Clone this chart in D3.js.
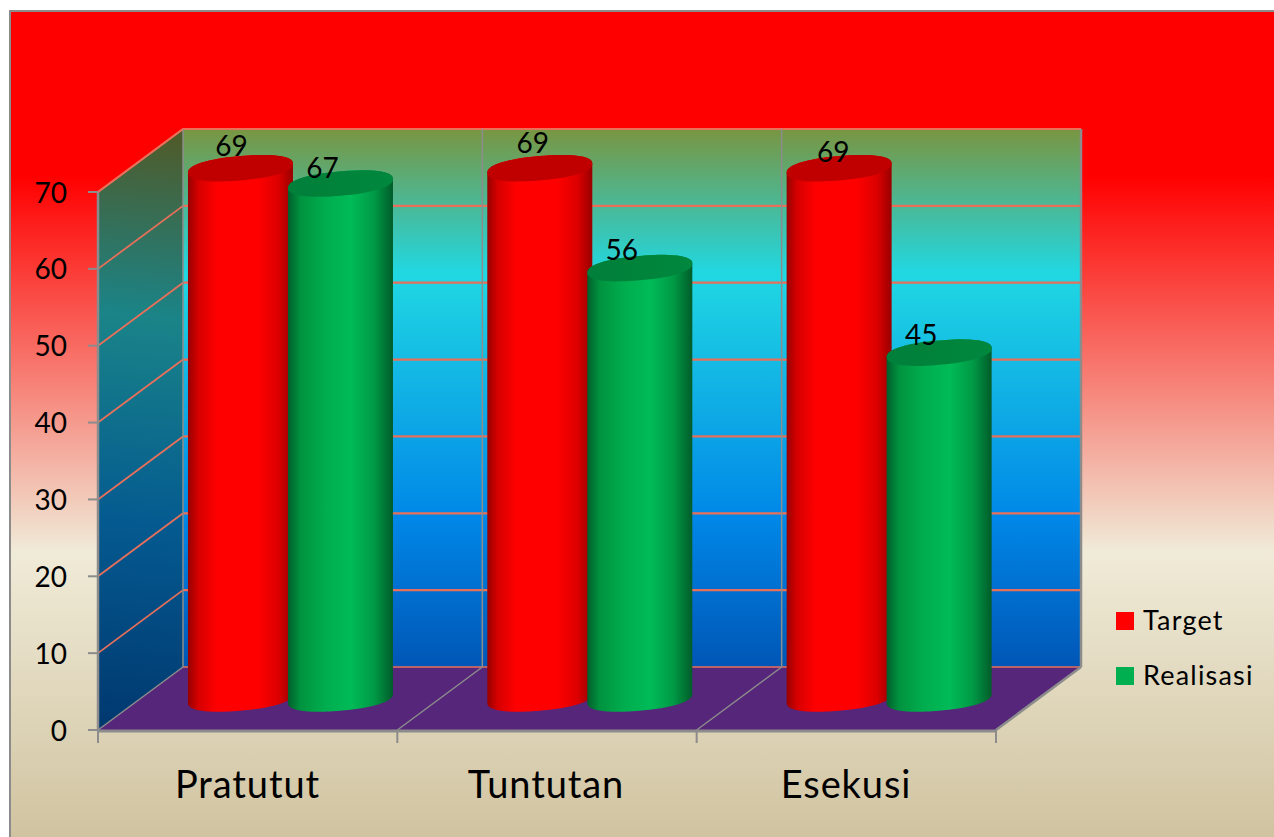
<!DOCTYPE html>
<html><head><meta charset="utf-8">
<script src="https://cdn.jsdelivr.net/npm/d3@7"></script>
<style>html,body{margin:0;padding:0;background:#fff;overflow:hidden}svg{display:block}text{font-family:Lato,"Open Sans",sans-serif;fill:#000}</style>
</head><body><div id="c"></div>
<script>
const categories = ["Pratutut","Tuntutan","Esekusi"];
const target = [69,69,69];
const realisasi = [67,56,45];
const seriesNames = ["Target","Realisasi"];
const yTicks = [0,10,20,30,40,50,60,70];

const W=1274,H=837;
const svg=d3.select("#c").append("svg").attr("width",W).attr("height",H);
const defs=svg.append("defs");
function grad(id,attrs,stops){
  const g=defs.append("linearGradient").attr("id",id);
  Object.entries(attrs).forEach(([k,v])=>g.attr(k,v));
  stops.forEach(([o,c])=>g.append("stop").attr("offset",o).attr("stop-color",c));
}
grad("bg",{gradientUnits:"userSpaceOnUse",x1:0,y1:11,x2:0,y2:837},[[0,"#ff0000"],[.2,"#ff0000"],[.655,"#f0ebd8"],[1,"#d0c3a0"]]);
grad("back",{gradientUnits:"userSpaceOnUse",x1:0,y1:128,x2:0,y2:667},[[0,"#7a9540"],[.27,"#20d8e2"],[.72,"#0088e8"],[1,"#0056b6"]]);
grad("side",{gradientUnits:"userSpaceOnUse",x1:165,y1:140,x2:115,y2:730},[[0,"#4e5c2c"],[.3,"#1a8488"],[.65,"#045a90"],[1,"#00386f"]]);
grad("redBody",{x1:0,x2:1,y1:0,y2:0},[[0,"#980000"],[.1,"#d60000"],[.28,"#ff0000"],[.66,"#ff0000"],[.86,"#dc0000"],[1,"#980000"]]);
grad("greenBody",{x1:0,x2:1,y1:0,y2:0},[[0,"#00602c"],[.12,"#00933f"],[.35,"#00ad4e"],[.6,"#00bb57"],[.82,"#009a45"],[1,"#005c2a"]]);
grad("greenTop",{x1:0,x2:1,y1:0,y2:0},[[0,"#007f3a"],[.5,"#00833b"],[1,"#00883e"]]);

// plot scales
const x=d3.scaleLinear().domain([0,categories.length]).range([98,996]);
const y=d3.scaleLinear().domain([0,70]).range([730,192]);
const depth=[85,-63];
const GRID="#e8705a",AX="#8c8c8c";

// background + frame
svg.append("rect").attr("x",10).attr("y",11).attr("width",W-10).attr("height",H-11).attr("fill","url(#bg)");
svg.append("path").attr("d",`M10,${H}V11H${W}`).attr("fill","none").attr("stroke",AX).attr("stroke-width",2);

const x0=x(0),x1=x(categories.length),yb=y(0),yt=y(70),dx=depth[0],dy=depth[1];
// walls
svg.append("path").attr("d",`M${x0+dx},${yt+dy}H${x1+dx}V${yb+dy}H${x0+dx}Z`).attr("fill","url(#back)");
svg.append("path").attr("d",`M${x0},${yt}L${x0+dx},${yt+dy}V${yb+dy}L${x0},${yb}Z`).attr("fill","url(#side)");
svg.append("path").attr("d",`M${x0},${yb}L${x0+dx},${yb+dy}H${x1+dx}L${x1},${yb}Z`).attr("fill","#56267a");

// gridlines
yTicks.forEach(t=>{
  const yy=y(t);
  if(t>0) svg.append("line").attr("x1",x0).attr("y1",yy).attr("x2",x0+dx).attr("y2",yy+dy).attr("stroke",GRID).attr("stroke-width",1.8);
  svg.append("line").attr("x1",x0+dx).attr("y1",yy+dy).attr("x2",x1+dx).attr("y2",yy+dy).attr("stroke",GRID).attr("stroke-width",t===0?1.4:2.2);
});
// wall dividers
d3.range(categories.length+1).forEach(i=>{
  svg.append("line").attr("x1",x(i)+dx).attr("y1",yt+dy).attr("x2",x(i)+dx).attr("y2",yb+dy).attr("stroke",AX).attr("stroke-width",i===categories.length?2.5:1.5);
  svg.append("line").attr("x1",x(i)).attr("y1",yb).attr("x2",x(i)+dx).attr("y2",yb+dy).attr("stroke",AX).attr("stroke-width",i===categories.length?2.5:1.5);
  svg.append("line").attr("x1",x(i)).attr("y1",yb).attr("x2",x(i)).attr("y2",yb+13).attr("stroke",AX).attr("stroke-width",2);
});
// axes
svg.append("line").attr("x1",x0).attr("y1",yt).attr("x2",x0).attr("y2",yb+1).attr("stroke",AX).attr("stroke-width",2.5);
svg.append("line").attr("x1",x0-1).attr("y1",yb+1).attr("x2",x1).attr("y2",yb+1).attr("stroke",AX).attr("stroke-width",3);
svg.append("line").attr("x1",x0).attr("y1",yt).attr("x2",x0+dx).attr("y2",yt+dy).attr("stroke",GRID).attr("stroke-width",1.8);

yTicks.forEach(t=>{
  svg.append("line").attr("x1",x0-10).attr("x2",x0).attr("y1",y(t)).attr("y2",y(t)).attr("stroke",AX).attr("stroke-width",2);
  svg.append("text").attr("x",67).attr("y",y(t)+10.5).attr("text-anchor","end").attr("font-size",28).text(t);
});
categories.forEach((c,i)=>{
  svg.append("text").attr("x",[247.5,546,846][i]).attr("y",798).attr("text-anchor","middle").attr("font-size",38).attr("letter-spacing",0.9).text(c);
});

// cylinders
const series=[target,realisasi];
const bodyFill=["url(#redBody)","url(#greenBody)"];
const capFill=["#c00000","url(#greenTop)"];
const rx=52.5,skew=4.5,ry=12.2,squareness=0.88;
const ln=d3.line();
const spow=v=>Math.sign(v)*Math.pow(Math.abs(v),squareness);
const arc=(cx,cy,a,b)=>d3.range(0,61).map(k=>{
  const th=a+(b-a)*k/60;
  const c=spow(Math.cos(th)),s=spow(Math.sin(th));
  return [cx+rx*c,cy-skew*c+ry*s];
});
const cxOf=(i,s)=>x(i)+(x(1)-x(0))/2+dx/2-50+s*100+0.3;
const yMid=v=>y(v)+dy/2;
const labelNudge=[[[-9,-12],[-18,-6]],[[-7,-15],[-18,-8]],[[-6,-6],[-18,-8]]];
const labels=svg.append("g");
categories.forEach((c,i)=>{
  series.forEach((vals,s)=>{
    const cx=cxOf(i,s),yT=yMid(vals[i]),yB=yMid(0);
    const outline=[...arc(cx,yB,Math.PI,0),...arc(cx,yT,0,-Math.PI)];
    svg.append("path").attr("d",ln(outline)+"Z").attr("fill",bodyFill[s]);
    svg.append("path").attr("d",ln(arc(cx,yT,0,2*Math.PI))+"Z").attr("fill",capFill[s]);
    const n=labelNudge[i][s];
    labels.append("text").attr("x",cx+n[0]).attr("y",yT+n[1]).attr("text-anchor","middle").attr("font-size",28).text(vals[i]);
  });
});
labels.raise();

// legend
const colors=["#ff0000","#00b050"];
seriesNames.forEach((n,i)=>{
  const ly=d3.scaleLinear().domain([0,1]).range([612,667])(i);
  svg.append("rect").attr("x",1116).attr("y",ly).attr("width",18).attr("height",18).attr("fill",colors[i]);
  svg.append("text").attr("x",1143).attr("y",ly+18).attr("font-size",27).attr("letter-spacing",1.2).text(n);
});
</script></body></html>
